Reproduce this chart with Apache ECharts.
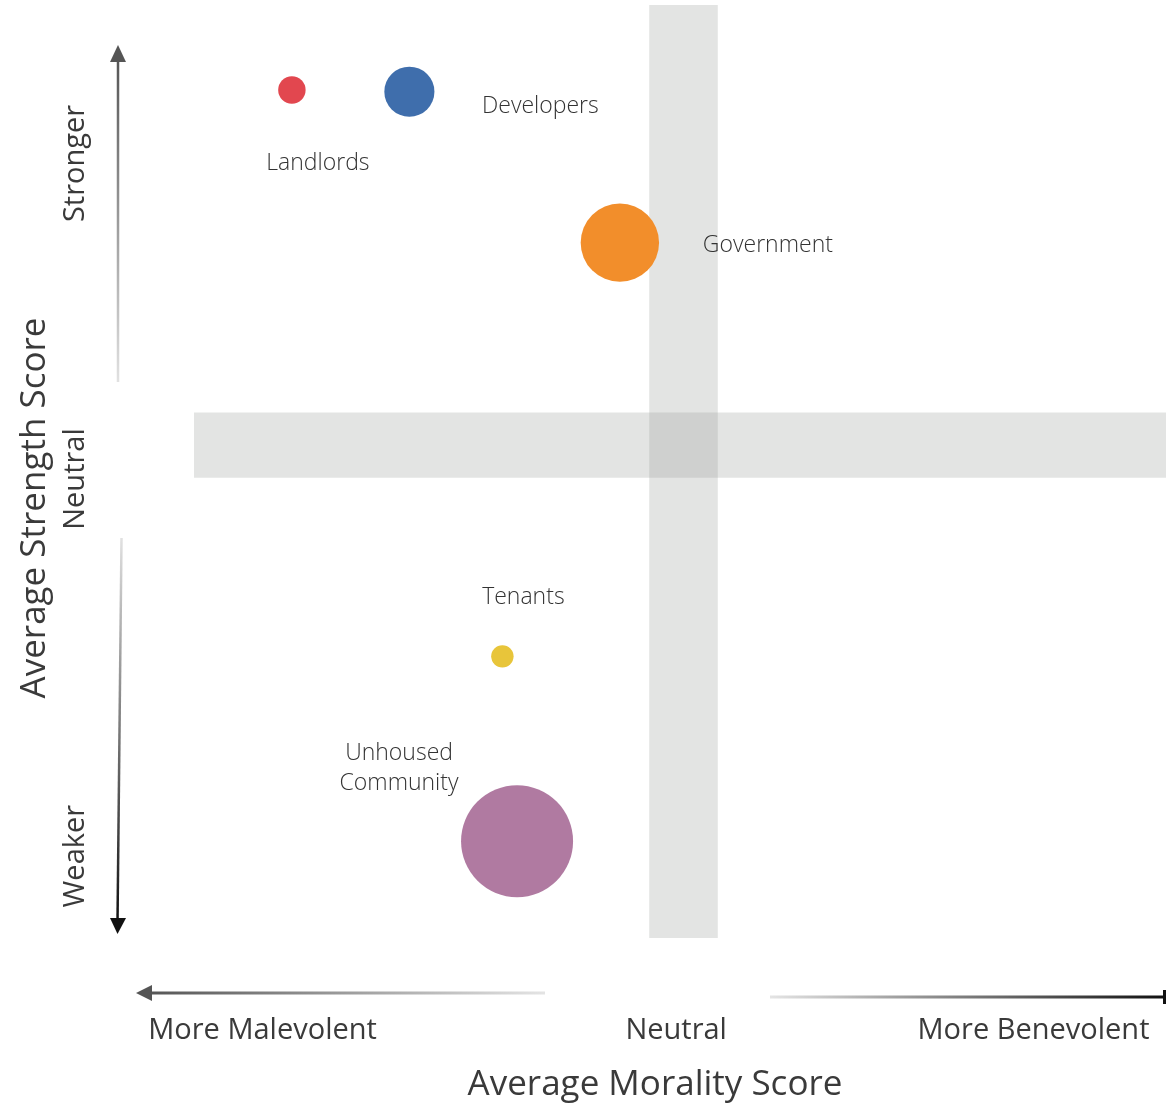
<!DOCTYPE html>
<html>
<head>
<meta charset="utf-8">
<script src="https://cdn.jsdelivr.net/npm/echarts@6/dist/echarts.min.js"></script>
<style>
  html, body { margin: 0; padding: 0; background: #ffffff; }
  #chart { width: 1166px; height: 1105px; }
</style>
</head>
<body>
<div id="chart"></div>
<script>
// Stakeholder groups and their average scores
const groups = ['Landlords', 'Developers', 'Government', 'Tenants', 'Unhoused\nCommunity'];
const morality = [-0.80, -0.56, -0.13, -0.37, -0.34];   // x: malevolent (-) .. benevolent (+)
const strength = [0.807, 0.803, 0.46, -0.48, -0.90];    // y: weaker (-) .. stronger (+)
const weight = [6, 20, 49, 4, 100];                      // bubble area

// Axis labels placed along each scale
const moralityTicks = ['More Malevolent', 'Neutral', 'More Benevolent'];
const moralityTickAt = [-0.86, -0.015, 0.715];
const strengthTicks = ['Stronger', 'Neutral', 'Weaker'];
const strengthTickAt = [0.64, -0.077, -0.934];

// Styling
const groupColors = ['#e2474f', '#3f6eac', '#f28e2b', '#e8c53a', '#b07aa1'];
const labelOffsets = {
  'Landlords': [26, 74],
  'Developers': [131, 15],
  'Government': [148, 3],
  'Tenants': [21, -59],
  'Unhoused\nCommunity': [-118, -73]
};
const FONT = 'Open Sans';
const bandColor = 'rgba(155,158,155,0.28)';

const chart = echarts.init(document.getElementById('chart'), null, { renderer: 'canvas' });

const points = groups.map((g, i) => ({
  name: g,
  value: [morality[i], strength[i], weight[i]],
  itemStyle: { color: groupColors[i], opacity: 1 },
  label: { offset: labelOffsets[g] }
}));

function lineGrad(x1, y1, x2, y2, c1, c2) {
  return {
    type: 'linear', x: x1, y: y1, x2: x2, y2: y2, global: true,
    colorStops: [{ offset: 0, color: c1 }, { offset: 1, color: c2 }]
  };
}

const option = {
  backgroundColor: '#ffffff',
  animation: false,
  grid: { left: 194, top: 5, width: 979, height: 933, containLabel: false, outerBoundsMode: 'none' },
  xAxis: {
    type: 'value', min: -1, max: 1,
    splitLine: { show: false }, axisLine: { show: false }, axisTick: { show: false },
    axisLabel: {
      customValues: moralityTickAt,
      formatter: v => moralityTicks[moralityTickAt.indexOf(v)] || '',
      margin: 78, fontFamily: FONT, fontSize: 29, color: '#3a3a3a'
    },
    name: 'Average Morality Score', nameLocation: 'middle', nameGap: 130,
    nameTextStyle: { fontFamily: FONT, fontSize: 35, color: '#3a3a3a', padding: [0, 57, 0, 0] }
  },
  yAxis: {
    type: 'value', min: -1.12, max: 1,
    splitLine: { show: false }, axisLine: { show: false }, axisTick: { show: false },
    axisLabel: {
      customValues: strengthTickAt,
      formatter: v => strengthTicks[strengthTickAt.indexOf(v)] || '',
      rotate: 90, margin: 104, fontFamily: FONT, fontSize: 29, color: '#3a3a3a'
    },
    name: 'Average Strength Score', nameLocation: 'middle', nameGap: 141, nameRotate: 90,
    nameTextStyle: { fontFamily: FONT, fontSize: 35, color: '#3a3a3a', padding: [0, 73, 0, 0] }
  },
  series: [
    {
      // neutral bands
      type: 'scatter', data: [], silent: true, z: 1,
      markArea: {
        silent: true,
        itemStyle: { color: bandColor },
        data: [
          [{ xAxis: -0.07, yAxis: -1.12 }, { xAxis: 0.07, yAxis: 1 }],
          [{ xAxis: -1, yAxis: -0.074 }, { xAxis: 1, yAxis: 0.074 }]
        ]
      }
    },
    {
      type: 'scatter', z: 3,
      data: points,
      symbolSize: v => 11.2 * Math.sqrt(v[2]),
      itemStyle: { opacity: 1 },
      label: {
        show: true, position: 'inside',
        formatter: p => p.name,
        fontFamily: FONT, fontSize: 23, fontWeight: 300, color: '#333333',
        lineHeight: 30, align: 'center', verticalAlign: 'middle'
      },
      emphasis: { disabled: true }
    }
  ],
  graphic: [
    // vertical "stronger" arrow
    { type: 'line', shape: { x1: 118, y1: 382, x2: 118, y2: 58 },
      style: { stroke: lineGrad(0, 382, 0, 58, 'rgba(225,225,225,1)', '#555555'), lineWidth: 2.5 } },
    { type: 'polygon', shape: { points: [[118, 45], [110, 62], [126, 62]] }, style: { fill: '#555555' } },
    // vertical "weaker" arrow
    { type: 'line', shape: { x1: 121.5, y1: 538, x2: 117.5, y2: 922 },
      style: { stroke: lineGrad(0, 538, 0, 922, 'rgba(225,225,225,1)', '#111111'), lineWidth: 2.5 } },
    { type: 'polygon', shape: { points: [[117.5, 934], [110, 918], [126, 918]] }, style: { fill: '#111111' } },
    // horizontal "malevolent" arrow
    { type: 'line', shape: { x1: 545, y1: 993, x2: 148, y2: 993 },
      style: { stroke: lineGrad(545, 0, 148, 0, 'rgba(228,228,228,1)', '#555555'), lineWidth: 3 } },
    { type: 'polygon', shape: { points: [[136, 993], [152, 985], [152, 1001]] }, style: { fill: '#555555' } },
    // horizontal "benevolent" line with end bar
    { type: 'line', shape: { x1: 770, y1: 997, x2: 1165, y2: 997 },
      style: { stroke: lineGrad(770, 0, 1165, 0, 'rgba(228,228,228,1)', '#111111'), lineWidth: 3 } },
    { type: 'rect', shape: { x: 1163, y: 990, width: 3, height: 14 }, style: { fill: '#111111' } }
  ]
};

chart.setOption(option);
</script>
</body>
</html>
